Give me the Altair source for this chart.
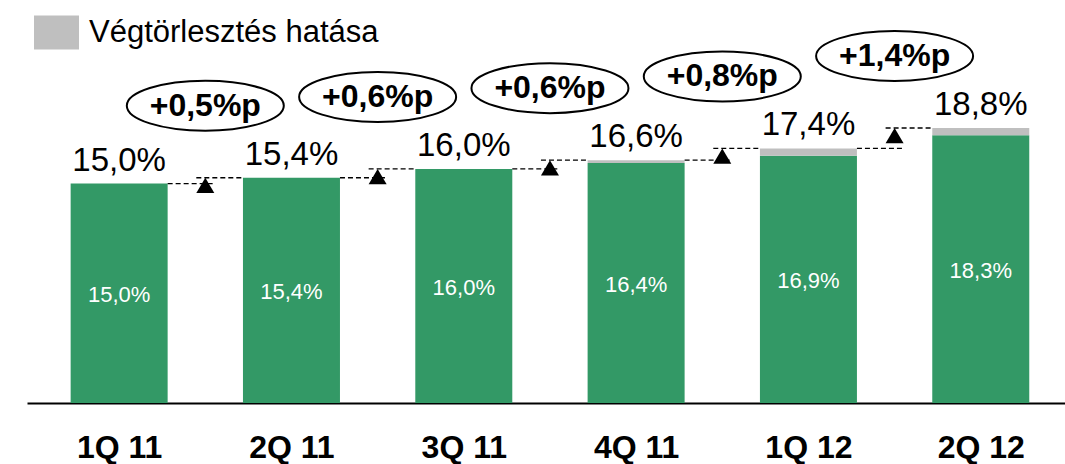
import json
import altair as alt
import pandas as pd

# ---- data ----
quarters = ["1Q 11", "2Q 11", "3Q 11", "4Q 11", "1Q 12", "2Q 12"]
base_values = [15.0, 15.4, 16.0, 16.4, 16.9, 18.3]
prepay_effect = [0.0, 0.0, 0.0, 0.2, 0.5, 0.5]
total_labels = ["15,0%", "15,4%", "16,0%", "16,6%", "17,4%", "18,8%"]
base_labels = ["15,0%", "15,4%", "16,0%", "16,4%", "16,9%", "18,3%"]
change_labels = ["+0,5%p", "+0,6%p", "+0,6%p", "+0,8%p", "+1,4%p"]
legend_label = "Végtörlesztés hatása"

GREEN = "#339966"
GREY = "#bfbfbf"
FONT = "Liberation Sans"

bars = pd.DataFrame({
    "idx": list(range(len(quarters))),
    "quarter": quarters,
    "base": base_values,
    "effect": prepay_effect,
    "total_label": total_labels,
    "base_label": base_labels,
})
bars["total"] = bars["base"] + bars["effect"]
bars["series"] = legend_label

steps = pd.DataFrame({
    "idx": list(range(len(change_labels))),
    "label": change_labels,
    "prev_total": bars["total"].iloc[:-1].values,
    "next_total": bars["total"].iloc[1:].values,
})

x_scale = alt.Scale(domain=[-0.5057, 5.4598], nice=False, zero=False)
y_scale = alt.Scale(domain=[0, 27.55], nice=False, zero=True)
label_expr = json.dumps(quarters) + "[datum.value]"
x_axis = alt.Axis(
    values=list(range(len(quarters))), labelExpr=label_expr, title=None,
    grid=False, ticks=False, tickSize=0, domain=True, domainColor="#000000",
    domainWidth=2, labelFont=FONT, labelFontWeight="bold", labelFontSize=32,
    labelColor="#000000", labelPadding=29, labelFlush=False, labelOverlap=False,
)

def X(field):
    return alt.X(field, type="quantitative", scale=x_scale, axis=x_axis)

def Y(field):
    return alt.Y(field, type="quantitative", scale=y_scale, axis=None, stack=None)

base = alt.Chart(bars)

green_bars = base.mark_bar(color=GREEN, size=97).encode(x=X("idx"), y=Y("base"))

grey_bars = base.transform_filter("datum.effect > 0").mark_bar(size=97).encode(
    x=X("idx"), y=Y("total"), y2="base:Q",
    color=alt.Color("series:N", scale=alt.Scale(domain=[legend_label], range=[GREY]),
                    legend=alt.Legend(orient="none", legendX=7, legendY=10, title=None,
                                      symbolType="M-1,-0.756L1,-0.756L1,0.756L-1,0.756Z",
                                      symbolSize=2025, symbolStrokeWidth=0, symbolOpacity=1,
                                      labelFont=FONT, labelFontSize=31, labelColor="#000000",
                                      labelOffset=10, padding=0, labelLimit=0)),
)

top_text = base.mark_text(font=FONT, fontSize=33, color="#000000", baseline="alphabetic",
                          align="center", dy=-13).encode(x=X("idx"), y=Y("total"), text="total_label:N")

inner_text = base.transform_calculate(mid="datum.base / 2").mark_text(
    font=FONT, fontSize=22, color="#ffffff", baseline="middle", align="center", dy=2
).encode(x=X("idx"), y=Y("mid"), text="base_label:N")

st = alt.Chart(steps).transform_calculate(mid="datum.idx + 0.5", nxt="datum.idx + 1")

lower_rule = st.mark_rule(color="#000000", strokeWidth=1.3, strokeDash=[5, 3],
                          xOffset=48.5, x2Offset=9).encode(
    x=X("idx"), x2="mid:Q", y=Y("prev_total"))
upper_rule = st.mark_rule(color="#000000", strokeWidth=1.3, strokeDash=[5, 3],
                          xOffset=-9, x2Offset=-48.5).encode(
    x=X("mid"), x2="nxt:Q", y=Y("next_total"))

triangles = st.mark_point(shape="M0,-0.85L1,0.85L-1,0.85Z", size=324, filled=True, fill="#000000",
                          opacity=1, strokeWidth=0, yOffset=7.65).encode(
    x=X("mid"), y=Y("next_total"))

ellipses = st.mark_point(shape="M-1,0A1,0.318,0,1,1,1,0A1,0.318,0,1,1,-1,0Z", size=24649,
                         filled=False, stroke="#000000", strokeWidth=2, opacity=1,
                         yOffset=-72).encode(x=X("mid"), y=Y("next_total"))

ellipse_text = st.mark_text(font=FONT, fontSize=32, fontWeight="bold", color="#000000",
                            baseline="middle", align="center", dy=-72).encode(
    x=X("mid"), y=Y("next_total"), text="label:N")

chart = alt.layer(
    green_bars, grey_bars, lower_rule, upper_rule, triangles, ellipses,
    top_text, inner_text, ellipse_text,
).properties(
    width=1038, height=403,
    autosize=alt.AutoSizeParams(type="none"),
    padding={"left": 27, "top": 0, "right": 0, "bottom": 61},
    background="#ffffff",
).configure_view(stroke=None)

chart.save("out.html", embed_options={"renderer": "svg", "actions": False})
